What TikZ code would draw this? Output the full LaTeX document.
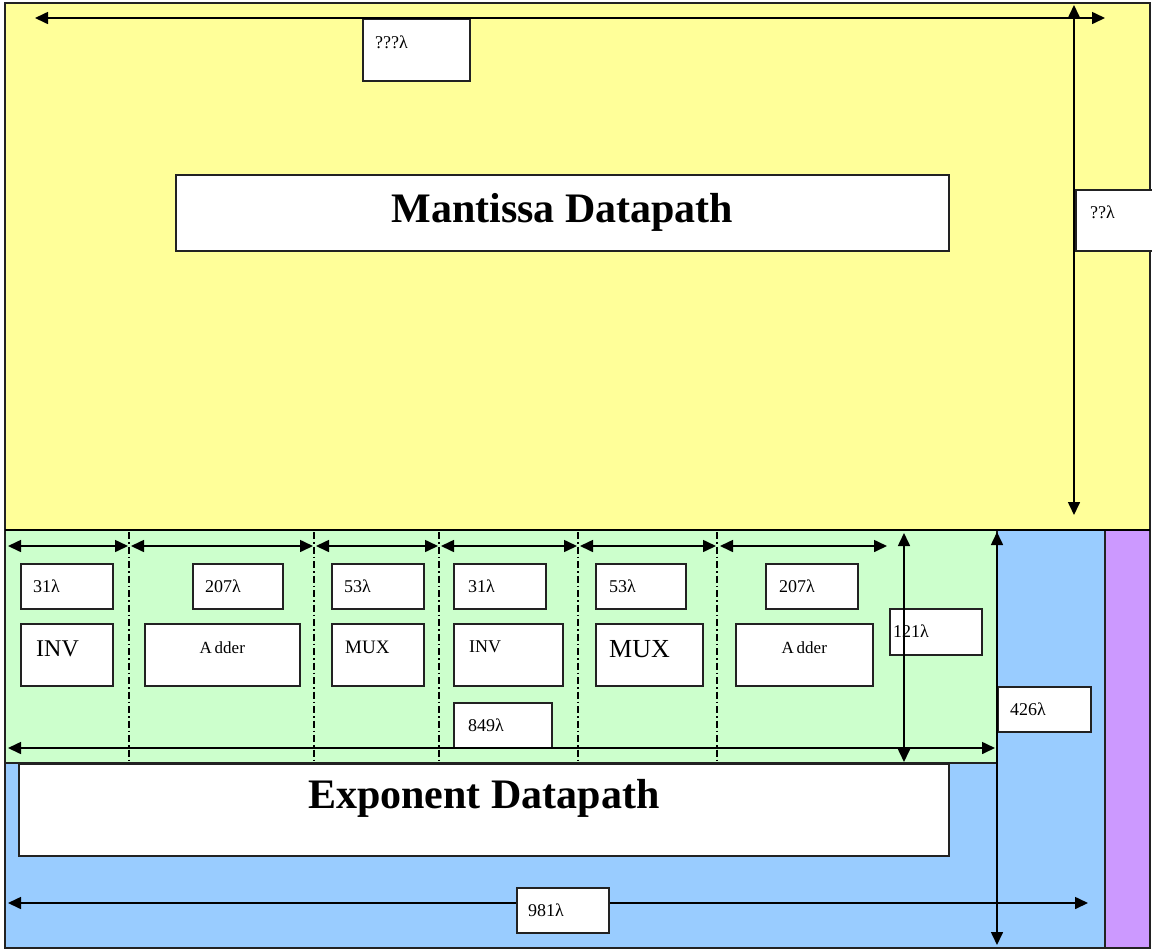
\documentclass[tikz,border=0pt]{standalone}
\usepackage{fontspec}
\setmainfont{Liberation Serif}
\usetikzlibrary{arrows.meta}
\definecolor{myyellow}{HTML}{FFFF99}
\definecolor{mygreen}{HTML}{CCFFCC}
\definecolor{myblue}{HTML}{99CCFF}
\definecolor{mypurple}{HTML}{CC99FF}
\definecolor{edge}{HTML}{222222}
\tikzset{
  region/.style={draw=edge, line width=1.6pt},
  box/.style={draw=edge, fill=white, line width=1.6pt, inner sep=0pt, anchor=north west},
  dim/.style={line width=1.6pt, {Triangle[length=13pt,width=12pt]}-{Triangle[length=13pt,width=12pt]}},
  sep/.style={line width=1.2pt, dash pattern=on 7pt off 3pt on 1.5pt off 3pt},
  num/.style={anchor=west, inner sep=0pt, font=\fontsize{18}{20}\selectfont},
  big/.style={inner sep=0pt, font=\fontsize{42}{46}\selectfont\bfseries},
}
\begin{document}
\begin{tikzpicture}[x=1pt,y=-1pt]
\useasboundingbox (0,0) rectangle (1152,951);
% regions
\fill[white] (0,0) rectangle (1152,951);
\draw[region, fill=myyellow] (5,3) rectangle (1150,530);
\draw[region, fill=myblue] (5,530) rectangle (1105,948);
\draw[region, fill=mypurple] (1105,530) rectangle (1150,948);
\draw[region, fill=mygreen] (5,530) rectangle (997,763);
\draw[line width=2.6pt] (5,530) -- (1150,530);
% separators
\foreach \x/\n in {129/s1,314/s2,439/s3,578/s4,717/s5} {
  \coordinate (\n t) at (\x,532);
  \coordinate (\n b) at (\x,763);
  \draw[sep] (\n t) -- (\n b);
}
% main boxes
\node[box, minimum width=773pt, minimum height=76pt] (mant) at (175,174) {};
\node[big] at (mant.center) {Mantissa Datapath};
\node[box, minimum width=930pt, minimum height=92pt] (expo) at (18,763) {};
\node[big] at ([yshift=11pt]expo.center) {Exponent Datapath};
% top label boxes
\node[box, minimum width=107pt, minimum height=62pt] (qa) at (362,18) {};
\node[num] at ([shift={(13,-8)}]qa.west) {???λ};
\node[box, minimum width=78pt, minimum height=61pt] (qb) at (1075,189) {};
\node[num] at ([shift={(15,-8)}]qb.west) {??λ};
% width labels row
\node[box, minimum width=92pt, minimum height=45pt] (w1) at (20,563) {};
\node[num] at ([shift={(13,0)}]w1.west) {31λ};
\node[box, minimum width=90pt, minimum height=45pt] (w2) at (192,563) {};
\node[num] at ([shift={(13,0)}]w2.west) {207λ};
\node[box, minimum width=92pt, minimum height=45pt] (w3) at (331,563) {};
\node[num] at ([shift={(13,0)}]w3.west) {53λ};
\node[box, minimum width=92pt, minimum height=45pt] (w4) at (453,563) {};
\node[num] at ([shift={(15,0)}]w4.west) {31λ};
\node[box, minimum width=90pt, minimum height=45pt] (w5) at (595,563) {};
\node[num] at ([shift={(14,0)}]w5.west) {53λ};
\node[box, minimum width=92pt, minimum height=45pt] (w6) at (765,563) {};
\node[num] at ([shift={(14,0)}]w6.west) {207λ};
% component boxes
\node[box, minimum width=92pt, minimum height=62pt] (c1) at (20,623) {};
\node[anchor=west, inner sep=0pt, font=\fontsize{24}{26}\selectfont] at ([shift={(16,-6)}]c1.west) {INV};
\node[box, minimum width=155pt, minimum height=62pt] (c2) at (144,623) {};
\node[inner sep=0pt, font=\fontsize{17}{20}\selectfont] at ([yshift=7pt]c2.center) {A\,dder};
\node[box, minimum width=92pt, minimum height=62pt] (c3) at (331,623) {};
\node[anchor=west, inner sep=0pt, font=\fontsize{19}{22}\selectfont] at ([shift={(14,-7)}]c3.west) {MUX};
\node[box, minimum width=109pt, minimum height=62pt] (c4) at (453,623) {};
\node[anchor=west, inner sep=0pt, font=\fontsize{18}{22}\selectfont] at ([shift={(16,-8)}]c4.west) {INV};
\node[box, minimum width=107pt, minimum height=62pt] (c5) at (595,623) {};
\node[anchor=west, inner sep=0pt, font=\fontsize{26}{28}\selectfont] at ([shift={(14,-6)}]c5.west) {MUX};
\node[box, minimum width=137pt, minimum height=62pt] (c6) at (735,623) {};
\node[inner sep=0pt, font=\fontsize{17}{20}\selectfont] at ([yshift=7pt]c6.center) {A\,dder};
% other labels
\node[box, minimum width=98pt, minimum height=45pt] (l849) at (453,702) {};
\node[num] at ([shift={(15,0)}]l849.west) {849λ};
\node[box, minimum width=92pt, minimum height=46pt] (l121) at (889,608) {};
\node[num] at ([shift={(4,-1)}]l121.west) {121λ};
\node[box, minimum width=93pt, minimum height=45pt] (l426) at (997,686) {};
\node[num] at ([shift={(13,0)}]l426.west) {426λ};
% dimension end points
\coordinate (tl) at (35,18);   \coordinate (tr) at (1105,18);
\coordinate (vt) at (1074,5);  \coordinate (vb) at (1074,515);
\coordinate (g0) at (8,546);   \coordinate (g1) at (128,546);
\coordinate (h1) at (131,546); \coordinate (g2) at (313,546);
\coordinate (h2) at (316,546); \coordinate (g3) at (438,546);
\coordinate (h3) at (441,546); \coordinate (g4) at (577,546);
\coordinate (h4) at (580,546); \coordinate (g5) at (716,546);
\coordinate (h5) at (720,546); \coordinate (g6) at (887,546);
\coordinate (bl) at (8,748);   \coordinate (br) at (995,748);
\coordinate (ht) at (904,533); \coordinate (hb) at (904,762);
\coordinate (et) at (997,532); \coordinate (eb) at (997,945);
\coordinate (fl) at (8,903);   \coordinate (fr) at (1088,903);
% dimension arrows
\draw[dim] (tl) -- (tr);
\draw[dim] (vt) -- (vb);
\draw[dim] (g0) -- (g1);
\draw[dim] (h1) -- (g2);
\draw[dim] (h2) -- (g3);
\draw[dim] (h3) -- (g4);
\draw[dim] (h4) -- (g5);
\draw[dim] (h5) -- (g6);
\draw[dim] (bl) -- (br);
\draw[dim] (ht) -- (hb);
\draw[dim] (et) -- (eb);
\draw[dim] (fl) -- (fr);
% 981 label box on top of its arrow
\node[box, minimum width=92pt, minimum height=45pt] (l981) at (516,887) {};
\node[num] at ([shift={(12,0)}]l981.west) {981λ};
\end{tikzpicture}
\end{document}
